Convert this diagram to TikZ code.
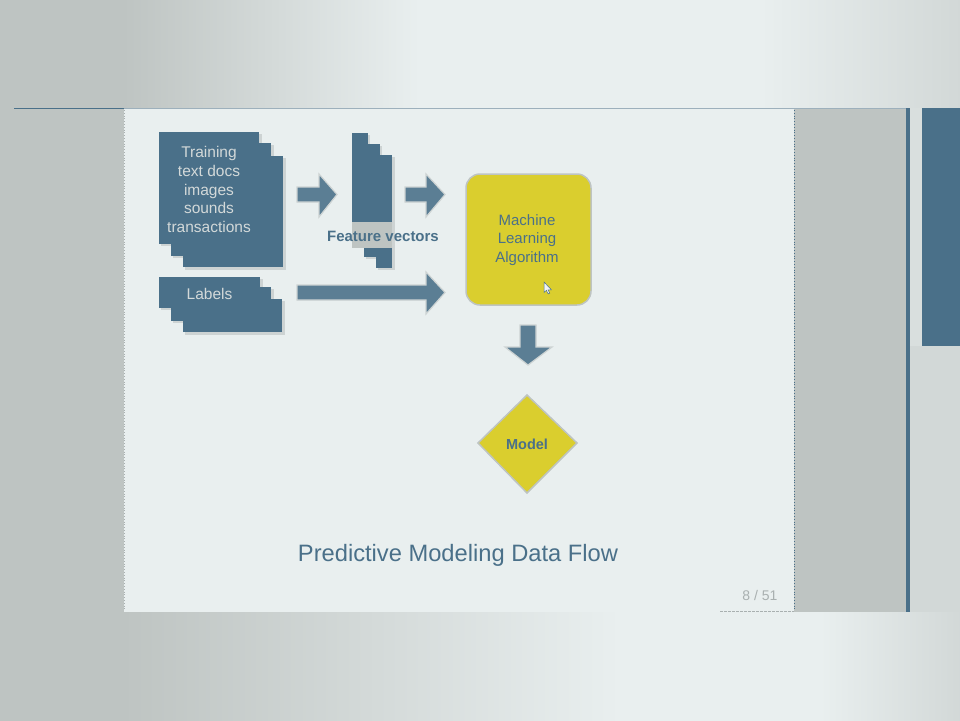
\documentclass[tikz,border=0pt]{standalone}
\usepackage{fontspec}
\setmainfont{Liberation Sans}
\usetikzlibrary{calc}
\definecolor{sblue}{HTML}{4A7089}
\definecolor{arrowc}{HTML}{5B7E94}
\definecolor{ylw}{HTML}{DACE2E}
\definecolor{slidebg}{HTML}{E9EFEF}
\definecolor{greyp}{HTML}{BEC4C2}
\definecolor{greym}{HTML}{D2D8D7}
\definecolor{txtlight}{HTML}{D3D9D9}
\definecolor{shadowc}{HTML}{CDD3D3}
\definecolor{pgnum}{HTML}{A9B0B0}
\definecolor{topline}{HTML}{9DB0BC}
\begin{document}
\begin{tikzpicture}[x=1pt,y=-1pt,
  docrect/.style={fill=sblue, draw=none},
  docshadow/.style={fill=shadowc, draw=none},
  barrow/.style={fill=arrowc, draw=shadowc, line width=1.2pt, line join=miter},
  yshape/.style={fill=ylw, draw=greyp, line width=1.5pt},
  lighttext/.style={text=txtlight, font=\fontsize{15.5pt}{18.8pt}\selectfont, align=center, inner sep=0pt},
  bluetext/.style={text=sblue, font=\fontsize{15pt}{18.6pt}\selectfont, align=center, inner sep=0pt},
]
\useasboundingbox (0,0) rectangle (960,720);
% ---------- background ----------
\fill[slidebg] (-2,-2) rectangle (962,722);
\fill[greyp] (-2,-2) rectangle (124,722);
\shade[left color=greyp, right color=slidebg] (123,-2) rectangle (420,108);
\shade[left color=slidebg, right color=greym] (760,-2) rectangle (962,108);
\shade[left color=greyp, right color=slidebg] (123,612) rectangle (620,722);
\shade[left color=slidebg, right color=greym] (820,612) rectangle (962,722);
\fill[greym] (910,346) rectangle (962,612);
\fill[greym!70!slidebg] (910,108) rectangle (922,346);
% slide
\fill[slidebg] (124,108) rectangle (794,612);
\draw[pgnum, dotted, line width=0.8pt] (124.5,110) -- (124.5,610);
% right grey panel
\fill[greyp] (794,108) rectangle (906,612);
\draw[sblue, dotted, line width=0.8pt] (794.5,110) -- (794.5,610);
\fill[sblue] (906,108) rectangle (910,612);
% far right dark panel
\fill[sblue] (922,108) rectangle (962,346);
% top line
\draw[topline, line width=1pt] (124,108.5) -- (906,108.5);
\draw[sblue, line width=1pt] (14,108.5) -- (124,108.5);
% bottom dashed border
\draw[pgnum, dashed, line width=0.6pt, dash pattern=on 3pt off 1pt] (720,611.5) -- (794,611.5);

% ---------- training documents stack ----------
\fill[docshadow] (161,134) rectangle (262,246);
\fill[docshadow] (173,145) rectangle (274,258);
\fill[docshadow] (185,158) rectangle (286,270);
\fill[docrect] (183,156) rectangle (283,267);
\fill[docrect] (171,143) rectangle (271,256);
\node[docrect, minimum width=100pt, minimum height=112pt, inner sep=0pt, anchor=north west] (train) at (159,132) {};
\node[lighttext] (traintext) at (209,189.5) {Training\\text docs\\images\\sounds\\transactions};

% ---------- labels stack ----------
\fill[docshadow] (161,279) rectangle (263,310);
\fill[docshadow] (173,289) rectangle (274,323);
\fill[docshadow] (185,301) rectangle (285,335);
\fill[docrect] (183,299) rectangle (282,332);
\fill[docrect] (171,287) rectangle (271,321);
\node[docrect, minimum width=101pt, minimum height=31pt, inner sep=0pt, anchor=north west] (labels) at (159,277) {};
\node[lighttext] (labeltext) at (209.5,294) {Labels};

% ---------- feature vectors stack ----------
\fill[docshadow] (354,135) rectangle (370,248);
\fill[docshadow] (366,146) rectangle (382,259);
\fill[docshadow] (378,157) rectangle (395,270);
\fill[docrect] (376,155) rectangle (392,268);
\fill[docrect] (364,144) rectangle (380,257);
\node[docrect, minimum width=16pt, minimum height=113pt, inner sep=0pt, anchor=north west] (fvec) at (352,133) {};
\fill[greyp] (352,222) rectangle (392,248);
\node[bluetext, font=\bfseries\fontsize{15pt}{18pt}\selectfont] (fvtext) at (383,236) {Feature vectors};

% ---------- machine learning box ----------
\node[yshape, rounded corners=14pt, minimum width=125pt, minimum height=131pt, inner sep=0pt] (mla) at (528.5,239.5) {};
\node[bluetext] (mlatext) at (527,240) {Machine\\Learning\\Algorithm};
% mouse cursor
\coordinate (cur) at (544,282);
\filldraw[fill=white!70!txtlight, draw=sblue, line width=0.5pt]
  (cur) -- ++(0,10.5) -- ++(2.4,-2.2) -- ++(1.7,3.6) -- ++(1.6,-0.7) -- ++(-1.6,-3.4) -- ++(3.3,0) -- cycle;

% ---------- model diamond ----------
\coordinate (mt) at (527,395);
\coordinate (mr) at (577,443);
\coordinate (mb) at (527,493);
\coordinate (ml) at (478,443);
\filldraw[yshape] (mt) -- (mr) -- (mb) -- (ml) -- cycle;
\node[bluetext, font=\bfseries\fontsize{14.5pt}{17pt}\selectfont] (model) at (527,444) {Model};

% ---------- block arrows ----------
% arrow 1: docs -> feature vectors
\coordinate (a1) at (297,194.5);
\filldraw[barrow] (a1) ++(0,-7.5) -- ++(22,0) -- ++(0,-13) -- (337,194.5) -- (319,217) -- (319,202) -- (297,202) -- cycle;
% arrow 2: feature vectors -> algorithm
\coordinate (a2) at (405,194.5);
\filldraw[barrow] (a2) ++(0,-7.5) -- ++(21,0) -- ++(0,-13) -- (445,194.5) -- (426,217) -- (426,202) -- (405,202) -- cycle;
% arrow 3: labels -> algorithm
\coordinate (a3) at (297,292.5);
\filldraw[barrow] (a3) ++(0,-7.5) -- ++(129,0) -- ++(0,-13) -- (445,292.5) -- (426,314) -- (426,300) -- (297,300) -- cycle;
% arrow 4: algorithm -> model
\coordinate (a4) at (528,325);
\filldraw[barrow] (a4) ++(-8,0) -- ++(16,0) -- ++(0,22) -- (552,347) -- (528,365) -- (505,347) -- (520,347) -- cycle;

% ---------- title and page number ----------
\node[text=sblue, font=\fontsize{23.7pt}{28pt}\selectfont, inner sep=0pt] (title) at (458,555) {Predictive Modeling Data Flow};
\node[text=pgnum, font=\fontsize{14pt}{16pt}\selectfont, inner sep=0pt] (pagenum) at (760,595) {8 / 51};
\end{tikzpicture}
\end{document}
